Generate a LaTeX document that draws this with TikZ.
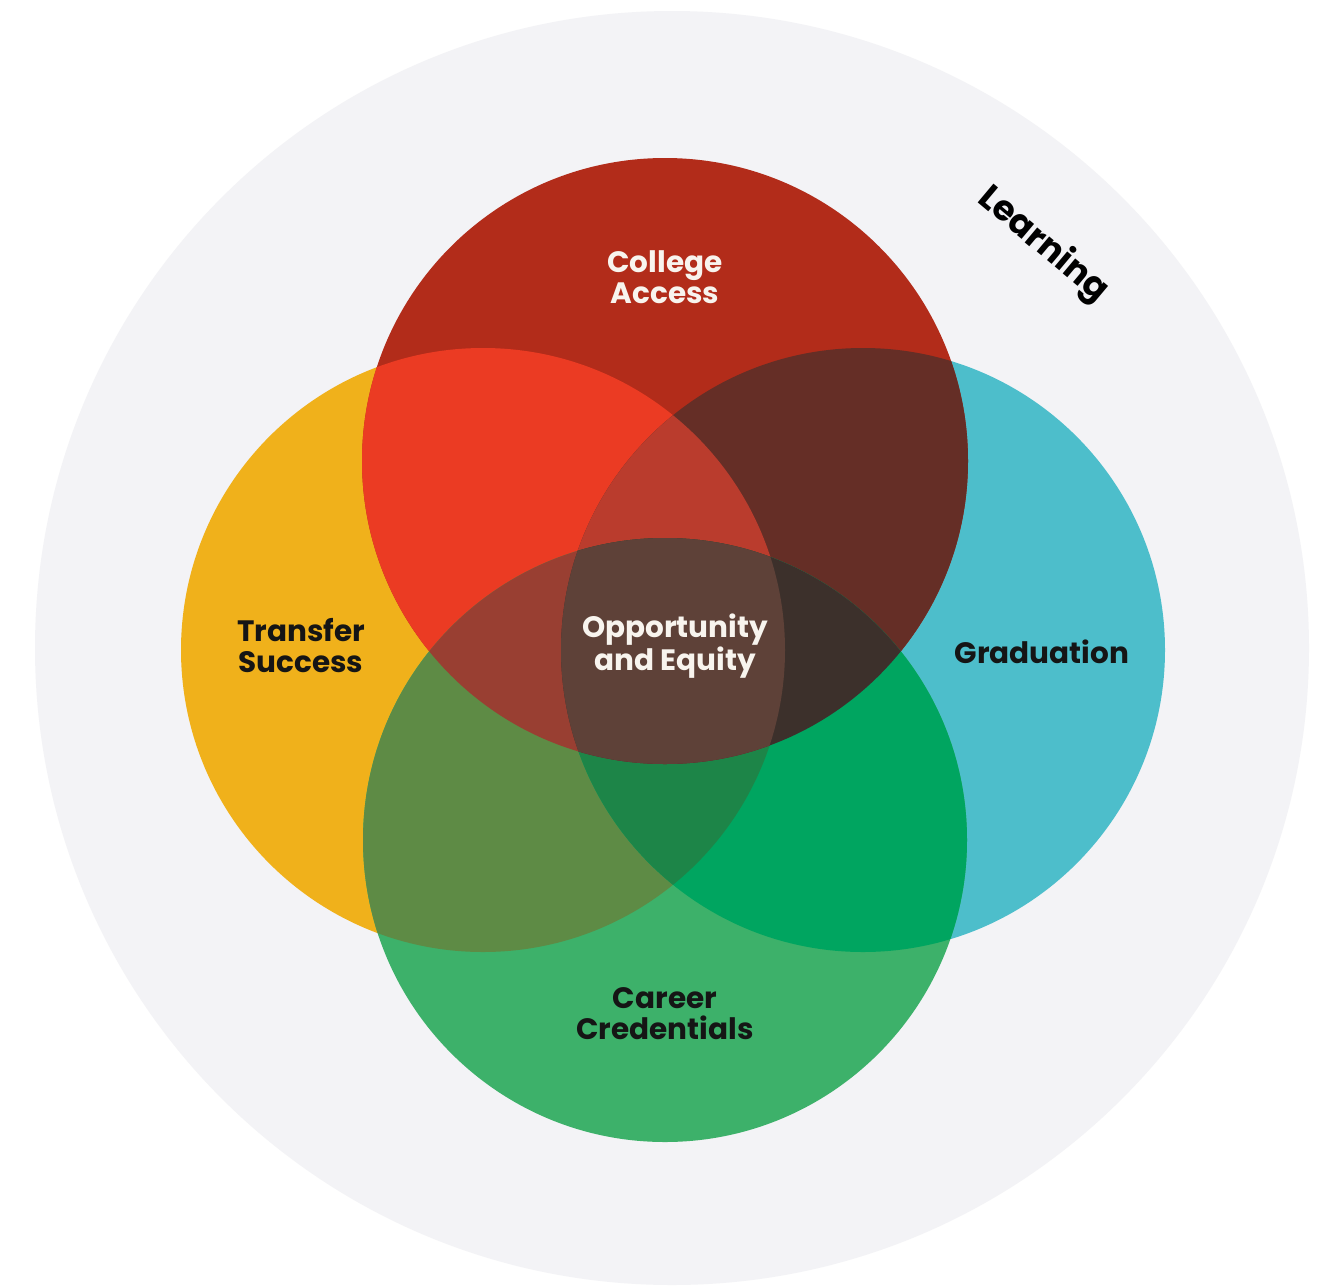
\documentclass[tikz,border=0pt]{standalone}
\usepackage{fontspec}
\setmainfont{Poppins}
\definecolor{bgray}{HTML}{F3F3F6}
\definecolor{cR}{HTML}{B22C1A}
\definecolor{cY}{HTML}{F0B11B}
\definecolor{cB}{HTML}{4DBECB}
\definecolor{cG}{HTML}{3DB16A}
\definecolor{cRY}{HTML}{EB3B23}
\definecolor{cRB}{HTML}{652E26}
\definecolor{cYG}{HTML}{5E8B45}
\definecolor{cBG}{HTML}{00A560}
\definecolor{cRYB}{HTML}{BA3C2D}
\definecolor{cYBG}{HTML}{1D8548}
\definecolor{cRGY}{HTML}{993F32}
\definecolor{cRGB}{HTML}{3C302B}
\definecolor{cAll}{HTML}{5E4138}
\definecolor{lighttxt}{HTML}{F8F4EE}
\definecolor{darktxt}{HTML}{151515}
\def\circR{(665,461) circle (303pt)}
\def\circY{(483,650) circle (302pt)}
\def\circB{(863,650) circle (302pt)}
\def\circG{(665,840) circle (302pt)}
\tikzset{lbl/.style={font=\fontsize{29.5}{31}\selectfont\bfseries, align=center, inner sep=0pt}}
\begin{document}
\begin{tikzpicture}[x=1pt,y=-1pt]
\useasboundingbox (0,0) rectangle (1323,1286);
\fill[white] (0,0) rectangle (1323,1286);
\fill[bgray] (672,648) circle (637pt);
% base circles
\fill[cY] \circY;
\fill[cB] \circB;
\fill[cG] \circG;
\fill[cR] \circR;
% pairs
\begin{scope}\clip \circR; \fill[cRY] \circY; \fill[cRB] \circB; \end{scope}
\begin{scope}\clip \circG; \fill[cYG] \circY; \fill[cBG] \circB; \end{scope}
% triples
\begin{scope}\clip \circY; \clip \circB; \fill[cRYB] \circR; \fill[cYBG] \circG; \end{scope}
\begin{scope}\clip \circR; \clip \circG; \fill[cRGY] \circY; \fill[cRGB] \circB; \end{scope}
% all four
\begin{scope}\clip \circR; \clip \circG; \clip \circY; \fill[cAll] \circB; \end{scope}
% labels
\node[lbl, text=lighttxt] (access) at (665,277) {College\\Access};
\node[lbl, text=darktxt] (transfer) at (301,646) {Transfer\\Success};
\node[lbl, text=lighttxt] (equity) at (675,646) {Opportunity\\and Equity};
\node[lbl, text=darktxt] (grad) at (1042,652) {Graduation};
\node[lbl, text=darktxt] (career) at (665,1014) {Career\\Credentials};
\node[lbl, font=\fontsize{35}{36}\selectfont\bfseries, text=black, rotate=-40] (learning) at (1043,245) {Learning};
\end{tikzpicture}
\end{document}
